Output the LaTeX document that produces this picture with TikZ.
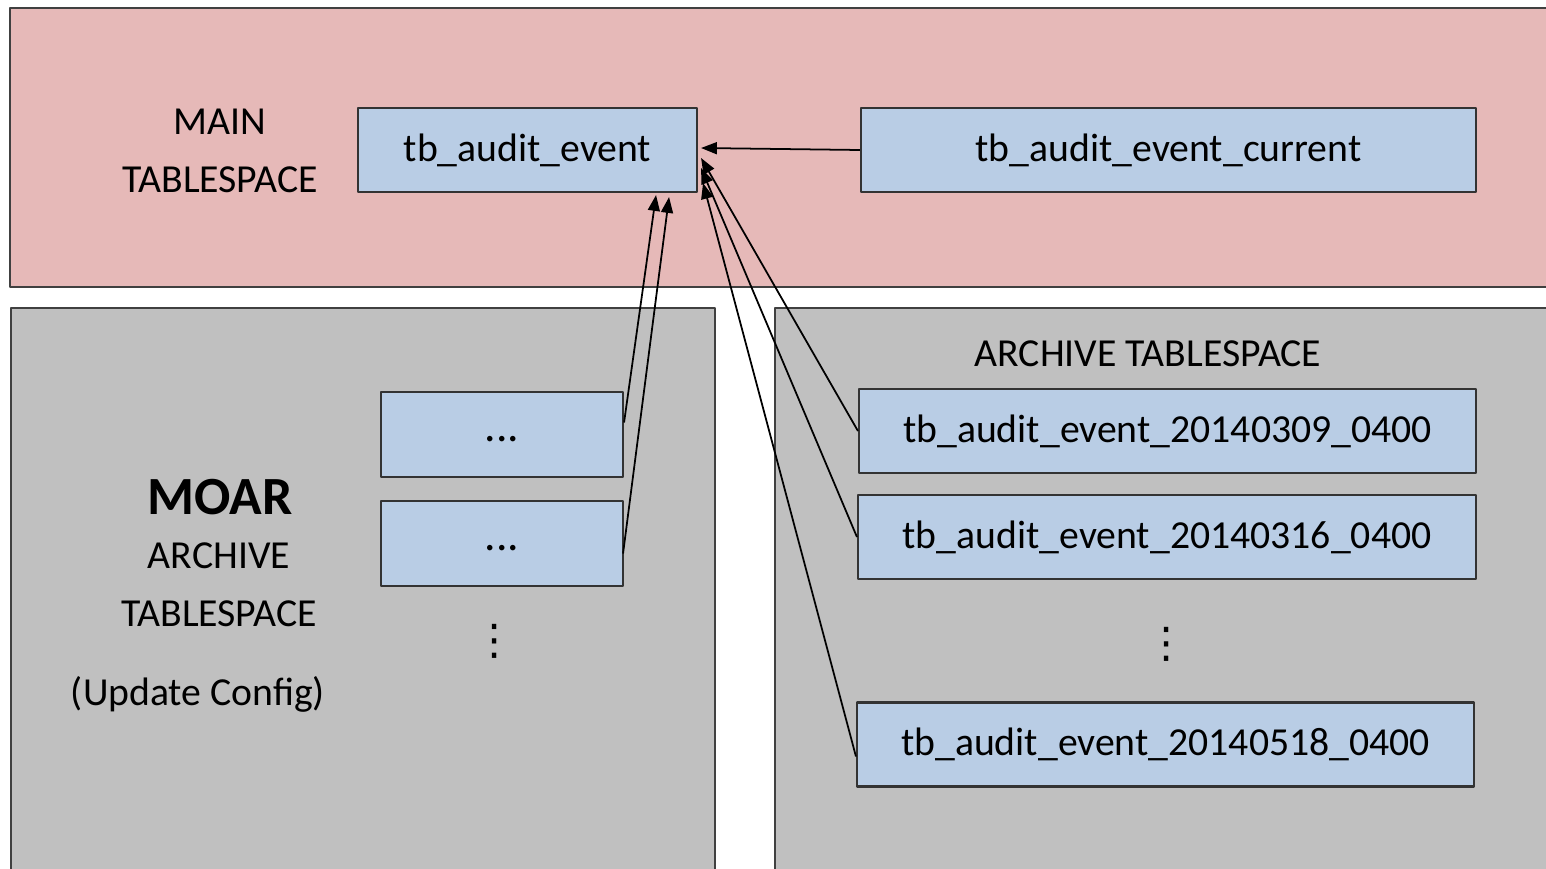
\documentclass[tikz,border=0pt]{standalone}
\usepackage{fontspec}
\setmainfont{Carlito}
\newfontfamily\symfont{DejaVu Sans}
\usetikzlibrary{arrows.meta, calc}

\definecolor{mainpink}{RGB}{230,185,184}
\definecolor{archgray}{RGB}{192,192,192}
\definecolor{tblblue}{RGB}{185,205,229}
\definecolor{edgegray}{RGB}{64,64,64}

\begin{document}
\begin{tikzpicture}[x=0.1mm, y=-0.1mm, line join=round,
    tbl/.style={draw=black!80, line width=0.6pt, fill=tblblue, minimum height=8.4mm,
      inner sep=0pt, font=\fontsize{11.3}{13}\selectfont},
    dotbox/.style={tbl, minimum width=24.2mm, minimum height=8.5mm, text height=4pt,
      text depth=0pt, font=\fontsize{13}{13}\selectfont},
    space/.style={draw=edgegray, line width=0.5pt},
    lbl/.style={align=center, font=\fontsize{11.3}{16.5}\selectfont},
    more/.style={font=\fontsize{12}{12}\symfont, inner sep=1pt},
    link/.style={line width=0.5pt, -{Triangle[length=4.5pt, width=3.4pt]}}]
      \clip (0,0) rectangle (1546,868);
      \fill[white] (0,0) rectangle (1546,868);
      \filldraw[space, fill=mainpink] (10,8) rectangle (1560,287);
      \filldraw[space, fill=archgray] (11,308) rectangle (715,890);
      \filldraw[space, fill=archgray] (775,308) rectangle (1560,890);
      \node[lbl] (mainlbl) at (220,151) {MAIN\\TABLESPACE};
      \node[font=\fontsize{15.3}{17}\selectfont\bfseries] (moar) at (220,497) {MOAR};
      \node[lbl] (moarlbl) at (219,585) {ARCHIVE\\TABLESPACE};
      \node[lbl] (upd) at (198,694) {(Update Config)};
      \node[lbl] (archlbl) at (1148,354) {ARCHIVE TABLESPACE};
      \node[tbl, minimum width=33.9mm] (tae) at (527.5,150) {tb\_audit\_event};
      \node[tbl, minimum width=61.5mm] (cur) at (1168.5,150) {tb\_audit\_event\_current};
      \node[dotbox] (dotA) at (502,434.5) {...};
      \node[dotbox] (dotB) at (502,543.5) {...};
      \node[more] (moreA) at (495,641) {⋮};
      \node[tbl, minimum width=61.7mm] (arA) at (1167.5,431) {tb\_audit\_event\_20140309\_0400};
      \node[tbl, minimum width=61.8mm] (arB) at (1167,537) {tb\_audit\_event\_20140316\_0400};
      \node[more] (moreB) at (1167,644) {⋮};
      \node[tbl, minimum width=61.7mm] (arC) at (1165.5,744.5) {tb\_audit\_event\_20140518\_0400};
      \draw[link] (cur.west) -- ($(tae.east)+(3,-2)$);
      \draw[link] ($(dotA.east)+(0,-12)$) -- ($(tae.south east)+(-42,2)$);
      \draw[link] ($(dotB.east)+(-1,10)$) -- ($(tae.south east)+(-29,4)$);
      \draw[link] (arA.west) -- ($(tae.east)+(3,8)$);
      \draw[link] (arB.west) -- ($(tae.east)+(3,18)$);
      \draw[link] ($(arC.west)+(0,12)$) -- ($(tae.east)+(5,33)$);
\end{tikzpicture}
\end{document}
